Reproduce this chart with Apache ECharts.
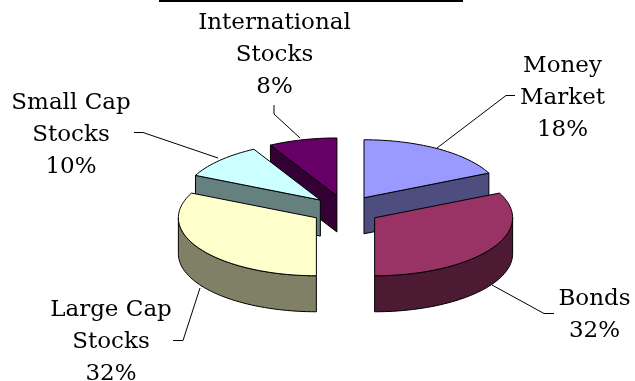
<!DOCTYPE html>
<html>
<head>
<meta charset="utf-8">
<style>html,body{margin:0;padding:0;background:#fff}#c{width:635px;height:381px}</style>
<script src="https://cdn.jsdelivr.net/npm/echarts@6/dist/echarts.min.js"></script>
</head>
<body>
<div id="c"></div>
<script>
// Portfolio allocation, clockwise from twelve o'clock.
const categories = ['Money\nMarket', 'Bonds', 'Large Cap\nStocks', 'Small Cap\nStocks', 'International\nStocks'];
const shares = [18, 32, 32, 10, 8];
const topColors = ['#9999ff', '#993366', '#ffffcc', '#ccffff', '#660066'];
const sideColors = ['#4d4d80', '#4d1a33', '#808066', '#668080', '#330033'];

// Back-to-front painting order for the tilted pie.
const paintOrder = [4, 3, 0, 1, 2];

// Tilted pie geometry.
const pie = { cx: 345.5, cy: 210, rx: 138, ry: 58, depth: 36, explode: 0.25 };

// Label blocks and their leader lines.
const labelBoxes = [
  { x: 562.5, y: 98.5 }, { x: 594.5, y: 315.5 }, { x: 111, y: 342 }, { x: 71, y: 135.5 }, { x: 274.5, y: 55.5 }
];
const leaders = [
  [[437, 148], [506, 95.5], [515, 95.5]],
  [[492, 285], [544, 313.5], [554, 313.5]],
  [[200, 288], [183, 340.5], [173, 340.5]],
  [[218, 158], [143, 132.5], [134, 132.5]],
  [[300, 138], [274, 114], [274, 105]]
];

const total = shares.reduce((a, b) => a + b, 0);
const toAngle = v => (v / total) * 360;
const starts = [];
shares.reduce((acc, v, i) => { starts[i] = acc; return acc + toAngle(v); }, 0);

function rim(px, py, deg) {
  const t = deg * Math.PI / 180;
  return [px + pie.rx * Math.sin(t), py - pie.ry * Math.cos(t)];
}
function arc(px, py, from, to) {
  const pts = [];
  const n = Math.max(2, Math.ceil(Math.abs(to - from) / 2));
  for (let i = 0; i <= n; i++) pts.push(rim(px, py, from + (to - from) * i / n));
  return pts;
}
const drop = pts => pts.map(p => [p[0], p[1] + pie.depth]);

function renderSlice(params, api) {
  const idx = api.value(0);
  const sweep = toAngle(api.value(1));
  const a0 = starts[idx], a1 = a0 + sweep;
  const mid = (a0 + a1) / 2;
  const off = rim(0, 0, mid);
  const px = pie.cx + off[0] * pie.explode;
  const py = pie.cy + off[1] * pie.explode;
  const pivot = [px, py];
  const edge = { stroke: '#000', lineWidth: 1 };
  const children = [];
  const face = (pts, fill) => children.push({
    type: 'polygon', shape: { points: pts }, style: Object.assign({ fill }, edge)
  });

  // Cut faces that turn toward the viewer.
  if (a0 > 180 && a0 < 360) {
    const e = rim(px, py, a0);
    face([pivot, e].concat(drop([e, pivot])), sideColors[idx]);
  }
  if (a1 > 0 && a1 < 180) {
    const e = rim(px, py, a1);
    face([pivot, e].concat(drop([e, pivot])), sideColors[idx]);
  }
  // Outer wall on the front half of the rim.
  const w0 = Math.max(a0, 90), w1 = Math.min(a1, 270);
  if (w1 > w0) {
    const top = arc(px, py, w0, w1);
    face(top.concat(drop(top).reverse()), sideColors[idx]);
  }
  // Top face.
  face([pivot].concat(arc(px, py, a0, a1)), topColors[idx]);
  return { type: 'group', children };
}

const textFont = '"DejaVu Serif", serif';
const graphics = [
  // Rule along the top edge.
  { type: 'rect', shape: { x: 159, y: 0, width: 304, height: 2 }, style: { fill: '#000' } }
];
leaders.forEach(points => graphics.push({
  type: 'polyline', shape: { points }, style: { stroke: '#000', lineWidth: 1, fill: null }
}));
categories.forEach((name, i) => {
  graphics.push({
    type: 'text',
    x: labelBoxes[i].x,
    y: labelBoxes[i].y,
    style: {
      text: name + '\n' + shares[i] + '%',
      font: '23px ' + textFont,
      fill: '#000',
      align: 'center',
      verticalAlign: 'middle',
      lineHeight: 32
    }
  });
});

const chart = echarts.init(document.getElementById('c'), null, { renderer: 'canvas' });
chart.setOption({
  animation: false,
  backgroundColor: '#fff',
  graphic: graphics,
  series: [{
    type: 'custom',
    coordinateSystem: 'none',
    renderItem: renderSlice,
    silent: true,
    data: paintOrder.map(i => ({ name: categories[i], value: [i, shares[i]] }))
  }]
});
</script>
</body>
</html>
